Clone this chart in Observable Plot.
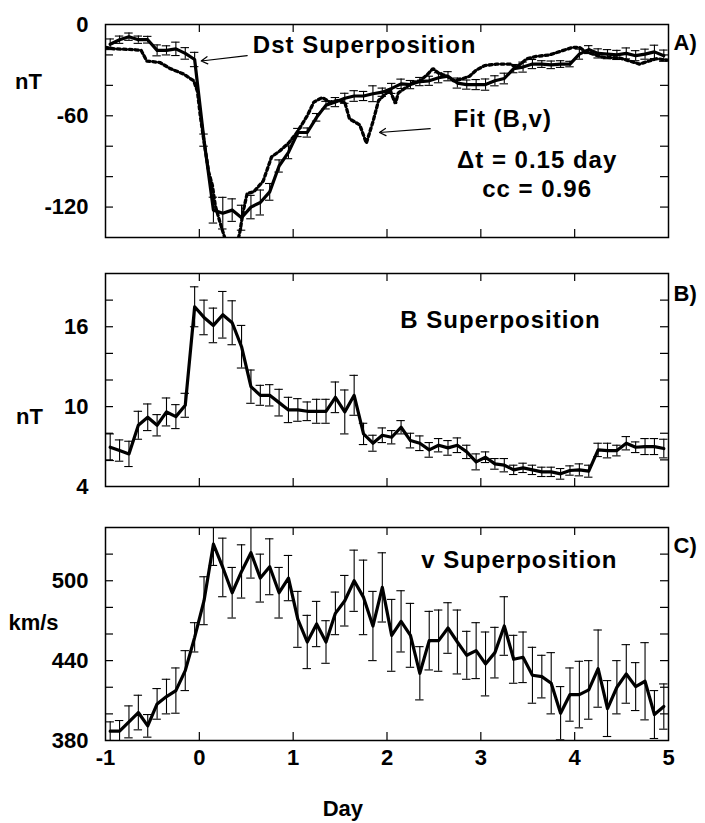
<!DOCTYPE html>
<html><head><meta charset="utf-8">
<script src="https://cdn.jsdelivr.net/npm/d3@7"></script>
<script src="https://cdn.jsdelivr.net/npm/@observablehq/plot@0.6"></script>
<style>
body{margin:0;background:#fff;}
#chart{width:705px;}
#chart svg{display:block;}
</style></head><body><div id="chart"></div>
<script>
// ---- data ----
const days = [-0.95,-0.85,-0.75,-0.65,-0.55,-0.45,-0.35,-0.25,-0.15,-0.05,
  0.05,0.15,0.25,0.35,0.45,0.55,0.65,0.75,0.85,0.95,
  1.05,1.15,1.25,1.35,1.45,1.55,1.65,1.75,1.85,1.95,
  2.05,2.15,2.25,2.35,2.45,2.55,2.65,2.75,2.85,2.95,
  3.05,3.15,3.25,3.35,3.45,3.55,3.65,3.75,3.85,3.95,
  4.05,4.15,4.25,4.35,4.45,4.55,4.65,4.75,4.85,4.95];

const dstValues = [-13,-10,-8,-10,-10,-17,-17,-16,-19,-23,
  -76,-122,-124,-122,-127,-120,-117,-110,-93,-84,
  -71,-71,-61,-53,-51,-48.5,-47,-47,-45.5,-44.5,
  -42,-39,-39.5,-37.5,-37,-35,-34,-38.5,-39.5,-39.5,
  -39.5,-37,-35.5,-29,-28,-26,-26,-26.5,-26,-26,
  -19.5,-16.5,-19,-19.5,-20,-19,-20.5,-19.5,-18,-20.5];
const dstErr = [3.5,2.4,2.4,2.4,2.2,3.6,3,4.4,3.8,4.7,
  4,8.5,10.4,7.4,8.2,7.7,8.2,5.5,4,4.2,
  2.7,3,2.5,2.5,3,3.3,3.5,3,5.2,2.7,
  3.3,3.1,2.7,2.7,3,3.3,3,3.3,3,3.3,
  3.7,3.3,3.5,2.7,3.3,3,2.2,2.5,2.2,1.8,
  3.3,2.6,3,3,3,3.6,3.3,3.3,4.4,3.7];

const fitDays = [-1.00,-0.90,-0.70,-0.62,-0.56,-0.42,-0.31,-0.17,-0.06,-0.02,0.01,0.05,0.10,0.14,0.17,0.22,0.27,0.32,0.38,0.43,0.47,0.51,0.58,0.68,0.77,0.86,0.95,1.04,1.15,1.22,1.31,1.39,1.48,1.55,1.60,1.71,1.78,1.85,1.91,2.03,2.09,2.12,2.21,2.28,2.35,2.42,2.49,2.56,2.63,2.71,2.79,2.88,2.95,3.04,3.17,3.31,3.38,3.49,3.59,3.73,3.88,3.98,4.05,4.12,4.30,4.48,4.69,4.87,5.00];
const fitValues = [-15,-16,-16.5,-17,-24,-25,-29,-32.5,-37,-44,-60,-77,-97,-106,-119,-130,-140,-152,-150,-137,-122,-111,-110,-103,-87,-83,-78,-71,-60,-51,-48,-51,-50,-51,-62,-66,-78,-64,-50,-43,-52,-45,-41,-38,-37,-33.5,-29,-32.5,-33.5,-37,-36,-34,-30,-27,-26,-26,-28,-22.6,-21,-20,-17,-15,-15,-18,-21.5,-22,-26,-22.5,-23.5];

const bValues = [6.95,6.7,6.45,8.6,9.2,8.6,9.6,9.25,10.1,17.5,
  16.7,16.1,16.9,16.3,14.5,11.5,10.85,10.85,10.3,9.75,
  9.75,9.65,9.65,9.65,10.7,9.6,10.85,7.95,7.25,7.85,
  7.7,8.45,7.45,7.25,6.75,7.1,6.9,7.1,6.6,5.85,
  6.2,5.7,5.6,5.25,5.4,5.25,5.1,5.1,4.95,5.2,
  5.25,5.15,6.75,6.7,6.7,7.25,6.95,7.0,7.0,6.85];
const bErr = [1.0,0.8,0.95,1.05,1.0,0.8,1.05,0.9,0.9,1.5,
  1.3,1.3,1.75,1.65,1.6,1.25,0.75,0.8,1.0,0.95,
  0.85,0.7,0.9,0.9,1.15,1.65,1.5,0.8,0.6,0.55,
  0.5,0.5,0.55,0.55,0.55,0.5,0.55,0.55,0.5,0.6,
  0.4,0.4,0.5,0.35,0.35,0.35,0.35,0.35,0.4,0.35,
  0.45,0.45,0.5,0.55,0.4,0.5,0.4,0.6,0.6,0.7];

const vValues = [387,387,394,401,391,407.5,413,417.5,432.5,457.5,
  485,527.5,510,491,507,521,502,510.5,491,502,
  471,454,467.5,454,475.5,485,500,487.5,466,495,
  459,469.5,459,430.5,455,455,464.5,454,444,447.5,
  437.5,446,466,441,442.5,429,428,423,400.5,414.5,
  414.5,418,434,404,420,430,420.5,424.5,399.5,405.5];
const vErr = [7,8,12,13,8.5,11.5,13,17,15,11,
  18,16,22,19,20,19,18,21,19,17,
  21,20,17,16,16,19,23,28,26,26,
  27,23,24,20,22,23,19,24,18,21,
  24,19,22,18,19,21,16,23,20,20,
  25,22,29,21,20,22,18,29,18,17];

const xTickValues = [0,1,2,3,4];
const xTickLabels = [-1,0,1,2,3,4,5];
const dstTicks = [-20,-40,-60,-80,-100,-120];
const dstLabels = [0,-60,-120];
const bTicks = [6,8,10,12,14,16,18];
const bLabels = [4,10,16];
const vTicks = [400,420,440,460,480,500,520];
const vLabels = [380,440,500];

const dstTitle = [{day: 0.57, value: -14, text: "Dst Superposition"}];
const fitLabel = [{day: 2.71, value: -62, text: "Fit (B,v)"}];
const fitStats = [
  {day: 3.60, value: -89.5, text: "\u0394t = 0.15 day"},
  {day: 3.60, value: -108, text: "cc = 0.96"}
];
const dstArrows = [
  {fromDay: 0.51, fromValue: -20.5, toDay: 0.02, toValue: -24},
  {fromDay: 2.46, fromValue: -68.5, toDay: 1.92, toValue: -71}
];

// ---- layout ----
const W = 705, ML = 105, MR = 37, PW = W - ML - MR;
const FONT = "'Liberation Sans', Arial, sans-serif";
const style = {fontFamily: FONT, fontSize: "22px", fontWeight: "bold", background: "white", color: "black", overflow: "visible"};
const noteStyle = {fontSize: 24, fontFamily: FONT, fontWeight: "bold"};

function rows(vals, errs) {
  return days.map((d, i) => ({day: d, value: vals[i], err: errs[i]}));
}

function panelMarks(data, plotH, yTicks, yLabels, lab, labValue, labDx, tag, tagValue) {
  return [
    Plot.frame({stroke: "black", strokeWidth: 1.5}),
    Plot.tickY(yTicks, {y: d => d, insetRight: PW - 8, strokeWidth: 1.2}),
    Plot.tickY(yTicks, {y: d => d, insetLeft: PW - 8, strokeWidth: 1.2}),
    Plot.tickX(xTickValues, {x: d => d, insetBottom: plotH - 8, strokeWidth: 1.2}),
    Plot.tickX(xTickValues, {x: d => d, insetTop: plotH - 8, strokeWidth: 1.2}),
    Plot.axisY({ticks: yLabels, tickSize: 0, tickPadding: 17, tickFormat: d => String(d), label: null}),
    Plot.ruleX(data, {x: "day", y1: d => d.value - d.err, y2: d => d.value + d.err, strokeWidth: 1.1, clip: true}),
    Plot.ruleY(data, {y: d => d.value - d.err, x1: d => d.day - 0.045, x2: d => d.day + 0.045, strokeWidth: 1.1, clip: true}),
    Plot.ruleY(data, {y: d => d.value + d.err, x1: d => d.day - 0.045, x2: d => d.day + 0.045, strokeWidth: 1.1, clip: true}),
    Plot.line(data, {x: "day", y: "value", strokeWidth: 3.2, clip: true}),
    Plot.text([lab], {x: -1, y: labValue, dx: labDx, text: d => d, textAnchor: "middle"}),
    Plot.text([tag], {x: 5, y: tagValue, dx: 5, text: d => d, textAnchor: "start"})
  ];
}

const chart = document.getElementById("chart");

// Panel A
const dstData = rows(dstValues, dstErr);
const fitData = fitDays.map((d, i) => ({day: d, value: fitValues[i]}));
chart.append(Plot.plot({
  width: W, height: 250, marginLeft: ML, marginRight: MR, marginTop: 24, marginBottom: 13,
  style,
  x: {domain: [-1, 5], axis: null},
  y: {domain: [-140, 0], axis: null},
  marks: [
    Plot.line(fitData, {x: "day", y: "value", stroke: "black", strokeWidth: 3.3, strokeDasharray: "3,3", strokeLinejoin: "miter", clip: true}),
    ...panelMarks(dstData, 213, dstTicks, dstLabels, "nT", -38, -77, "A)", -12),
    Plot.text(dstTitle, {x: "day", y: "value", text: "text", textAnchor: "start", ...noteStyle}),
    Plot.text(fitLabel, {x: "day", y: "value", text: "text", textAnchor: "start", ...noteStyle}),
    Plot.text(fitStats, {x: "day", y: "value", text: "text", textAnchor: "middle", ...noteStyle}),
    Plot.arrow(dstArrows, {x1: "fromDay", y1: "fromValue", x2: "toDay", y2: "toValue", strokeWidth: 1.2, headLength: 9})
  ]
}));

// Panel B
chart.append(Plot.plot({
  width: W, height: 250, marginLeft: ML, marginRight: MR, marginTop: 23, marginBottom: 14,
  style,
  x: {domain: [-1, 5], axis: null},
  y: {domain: [4, 20], axis: null},
  marks: [
    ...panelMarks(rows(bValues, bErr), 213, bTicks, bLabels, "nT", 9.2, -76, "B)", 18.5),
    Plot.text(["B Superposition"], {x: 3.21, y: 16.5, text: d => d, textAnchor: "middle", ...noteStyle})
  ]
}));

// Panel C
chart.append(Plot.plot({
  width: W, height: 323, marginLeft: ML, marginRight: MR, marginTop: 27, marginBottom: 83,
  style,
  x: {domain: [-1, 5], axis: null},
  y: {domain: [380, 540], axis: null},
  marks: [
    ...panelMarks(rows(vValues, vErr), 213, vTicks, vLabels, "km/s", 468, -72, "C)", 526),
    Plot.axisX({ticks: xTickLabels, tickSize: 0, tickPadding: 9, tickFormat: d => String(d), label: null}),
    Plot.text(["v Superposition"], {x: 3.41, y: 515, text: d => d, textAnchor: "middle", ...noteStyle}),
    Plot.text(["Day"], {x: 1.53, y: 380, dy: 68, text: d => d, textAnchor: "middle"})
  ]
}));

// widen annotation glyph spacing slightly, as in the reference
document.querySelectorAll("svg text").forEach(t => {
  const s = t.textContent;
  if (/Superposition|Fit|day|cc =/.test(s)) t.setAttribute("letter-spacing", "1");
});
</script></body></html>
